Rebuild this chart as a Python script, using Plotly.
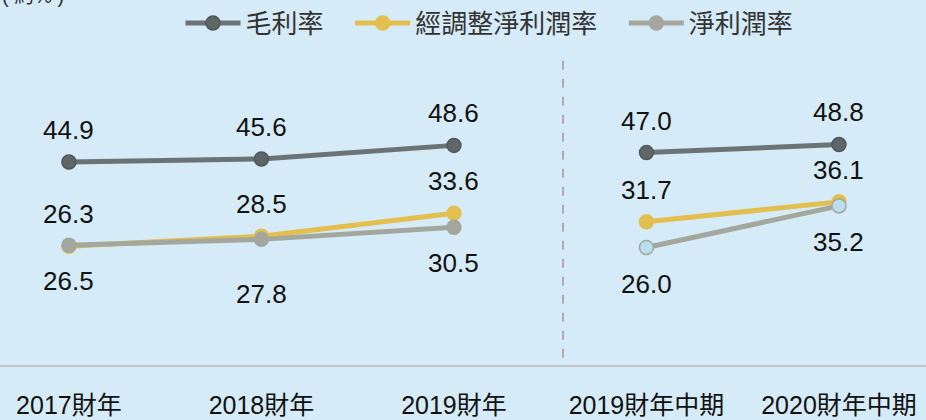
import plotly.graph_objects as go

categories = ["2017財年", "2018財年", "2019財年", "2019財年中期", "2020財年中期"]
gross_margin = [44.9, 45.6, 48.6, 47.0, 48.8]
adj_net_margin = [26.3, 28.5, 33.6, 31.7, 36.1]
net_margin = [26.5, 27.8, 30.5, 26.0, 35.2]

# full-year points and interim points are drawn as separate line pieces
groups = [[0, 1, 2], [3, 4]]

FONT = "Arial, 'Liberation Sans', 'Noto Sans CJK TC', sans-serif"
BG = "#d6ebf8"
PAD = "\u00a0" * 3  # extra room between legend entries

series = [
    dict(name="毛利率", y=gross_margin, line="#6b7374",
         fill=["#5f6667"] * 5, edge="#50575a", label_pos="above"),
    dict(name="經調整淨利潤率", y=adj_net_margin, line="#e2bf4e",
         fill=["#e2bf4e"] * 5, edge="#e2bf4e", label_pos="above"),
    dict(name="淨利潤率", y=net_margin, line="#a3a79d",
         fill=["#a3a79d"] * 3 + ["#b9def0"] * 2, edge="#a3a79d", label_pos="below"),
]

fig = go.Figure()
annotations = []
for k, s in enumerate(series):
    for gi, idx in enumerate(groups):
        fig.add_trace(go.Scatter(
            x=[categories[i] for i in idx],
            y=[s["y"][i] for i in idx],
            name=s["name"] + (PAD if k < 2 else ""),
            legendgroup=s["name"], showlegend=(gi == 0),
            mode="lines+markers",
            line=dict(color=s["line"], width=5),
            marker=dict(size=14, color=[s["fill"][i] for i in idx],
                        line=dict(color=s["edge"], width=1.5)),
            hoverinfo="skip",
        ))
    for i, v in enumerate(s["y"]):
        if s["label_pos"] == "above":
            shift = 32
        else:
            shift = -55 if i == 1 else -36
        annotations.append(dict(
            x=categories[i], y=v, text=f"{v:.1f}", showarrow=False,
            xref="x", yref="y", yshift=shift,
            font=dict(size=26, color="#111111", family=FONT),
        ))

annotations.append(dict(
    x=0, y=1.148, xref="paper", yref="paper", xanchor="left", yanchor="bottom",
    text="( 約% )", showarrow=False, font=dict(size=20, color="#333333", family=FONT),
))

fig.update_layout(
    width=926, height=420,
    paper_bgcolor=BG, plot_bgcolor=BG,
    margin=dict(t=55, b=55, l=0, r=0, autoexpand=False),
    font=dict(family=FONT, color="#111111"),
    showlegend=True,
    legend=dict(
        orientation="h", x=0.5286, xanchor="center",
        yref="container", y=1 - 23 / 420, yanchor="middle",
        font=dict(size=26, color="#333333"), itemwidth=55,
        tracegroupgap=10, bgcolor="rgba(0,0,0,0)",
    ),
    annotations=annotations,
    shapes=[dict(
        type="line", xref="paper", yref="paper", x0=563 / 926, x1=563 / 926,
        y0=0.023, y1=1.01, line=dict(color="#a9adb0", width=2, dash="dash"),
    )],
)
fig.update_xaxes(
    type="category", categoryorder="array", categoryarray=categories,
    range=[-0.358, 4.452], showgrid=False, zeroline=False, automargin=False,
    showline=True, linecolor="#c3c6c8", linewidth=2,
    ticks="", ticklabelstandoff=17,
    tickfont=dict(size=25, color="#111111", family=FONT),
)
fig.update_yaxes(range=[0, 68.6], visible=False, showgrid=False, zeroline=False)

fig.write_html("out.html", config={"displayModeBar": False},
               post_script="document.body.style.margin='0';")
